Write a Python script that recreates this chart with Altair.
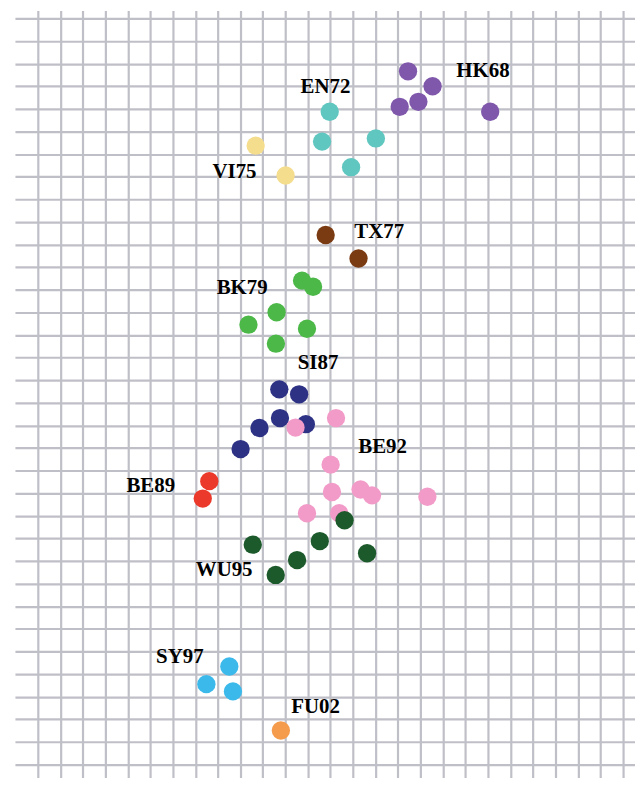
import altair as alt
import pandas as pd

# Cluster names and colours
clusters = ["HK68", "EN72", "VI75", "TX77", "BK79", "SI87", "BE92", "BE89", "WU95", "SY97", "FU02"]
cluster_colors = ["#7f57ab", "#5fc6c0", "#f5dd8e", "#7a3a12", "#4cb848", "#2e3285",
                  "#f29bc9", "#eb3a2b", "#1d5a2b", "#3bb9ea", "#f59b4c"]

# Strain positions (antigenic units; y grows downward)
point_cluster = (["HK68"] * 5 + ["EN72"] * 4 + ["VI75"] * 2 + ["TX77"] * 2 + ["BK79"] * 6
                 + ["SI87"] * 6 + ["BE92"] * 9 + ["BE89"] * 2 + ["WU95"] * 6 + ["SY97"] * 3 + ["FU02"])
point_x = [16.45, 17.54, 16.08, 16.91, 20.10,
           12.97, 12.63, 15.02, 13.92,
           9.68, 11.01,
           12.79, 14.25,
           11.74, 12.23, 10.61, 9.36, 11.96, 10.58,
           10.73, 11.61, 10.76, 11.91, 9.85, 9.01,
           13.25, 11.45, 13.01, 13.07, 14.34, 14.85, 17.31, 11.96, 13.39,
           7.62, 7.33,
           13.63, 12.53, 9.55, 11.52, 14.63, 10.57,
           8.51, 7.49, 8.67,
           10.80]
point_y = [2.34, 3.00, 3.91, 3.69, 4.13,
           4.13, 5.45, 5.31, 6.58,
           5.63, 6.95,
           9.58, 10.62,
           11.60, 11.87, 13.00, 13.55, 13.73, 14.39,
           16.41, 16.63, 17.68, 17.95, 18.12, 19.05,
           17.68, 18.10, 19.74, 20.95, 20.84, 21.10, 21.16, 21.89, 21.89,
           20.47, 21.24,
           22.20, 23.12, 23.28, 23.96, 23.66, 24.62,
           28.67, 29.45, 29.77,
           31.50]

# Label positions
label_x = [19.78, 12.78, 8.74, 15.17, 9.08, 12.45, 15.32, 5.02, 8.28, 6.31, 12.34]
label_y = [2.59, 3.30, 7.08, 9.70, 12.19, 15.49, 19.21, 20.95, 24.66, 28.53, 30.73]

points = pd.DataFrame({"cluster": point_cluster, "x": point_x, "y": point_y})
labels = pd.DataFrame({"cluster": clusters, "x": label_x, "y": label_y})

grid_color = "#bfbfc7"
x_scale = alt.Scale(domain=[-1.015, 26.534], nice=False, zero=False)
y_scale = alt.Scale(domain=[-0.352, 33.582], nice=False, zero=False, reverse=True)
x_axis = alt.Axis(values=list(range(27)), tickCount=200, grid=True, labels=False, ticks=False,
                  domain=False, title=None, gridColor=grid_color, gridWidth=2.2, gridOpacity=1)
y_axis = alt.Axis(values=list(range(34)), tickCount=200, grid=True, labels=False, ticks=False,
                  domain=False, title=None, gridColor=grid_color, gridWidth=2.2, gridOpacity=1)

pts = alt.Chart(points).mark_circle(size=340, opacity=1).encode(
    x=alt.X("x:Q", scale=x_scale, axis=x_axis),
    y=alt.Y("y:Q", scale=y_scale, axis=y_axis),
    color=alt.Color("cluster:N", scale=alt.Scale(domain=clusters, range=cluster_colors), legend=None),
)

txt = alt.Chart(labels).mark_text(
    font="Liberation Serif", fontWeight="bold", fontSize=21,
    align="center", baseline="alphabetic", color="#000000"
).encode(
    x=alt.X("x:Q", scale=x_scale),
    y=alt.Y("y:Q", scale=y_scale),
    text="cluster:N",
)

chart = alt.layer(pts, txt).properties(
    width=624, height=772,
    autosize=alt.AutoSizeParams(type="none"),
    padding={"left": 7, "top": 0, "right": 0, "bottom": 0},
    background="white",
).configure_view(stroke=None)

chart.save("out.html", embed_options={"renderer": "svg", "actions": False})
